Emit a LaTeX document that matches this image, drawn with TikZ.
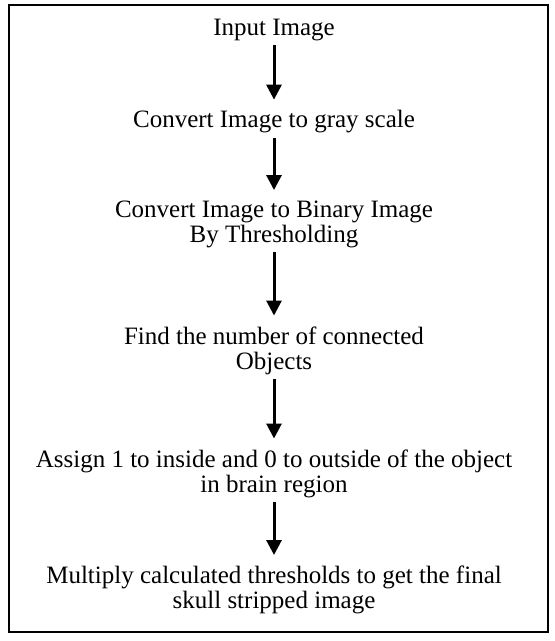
\documentclass[tikz,border=0pt]{standalone}
\usepackage{fontspec}
\setmainfont{Liberation Serif}
\usetikzlibrary{arrows.meta}

\begin{document}
\begin{tikzpicture}[x=0.5pt,y=-0.5pt,
    txt/.style={inner sep=0pt,outer sep=0pt,align=center,font=\fontsize{12.5}{12.5}\selectfont},
    flow/.style={-{Triangle[width=7.5pt,length=7.5pt]},line width=1.5pt,shorten <=2.2pt,shorten >=5.5pt}]
    \useasboundingbox (0,0) rectangle (555,641);
    \draw[line width=1.1pt](9,5) rectangle (548,632);
    \node[txt](input) at (274,30){Input Image};
    \node[txt](gray) at (274,122){Convert Image to gray scale};
    \node[txt](binary) at (274,224.5){Convert Image to Binary Image\\By Thresholding};
    \node[txt](objects) at (274,350.5){Find the number of connected\\Objects};
    \node[txt](assign) at (274,473.5){Assign 1 to inside and 0 to outside of the object\\in brain region};
    \node[txt](final) at (274,590){Multiply calculated thresholds to get the final\\skull stripped image};
    \draw[flow](input)--(gray);
    \draw[flow](gray)--(binary);
    \draw[flow](binary)--(objects);
    \draw[flow](objects)--(assign);
    \draw[flow](assign)--(final);
\end{tikzpicture}
\end{document}
